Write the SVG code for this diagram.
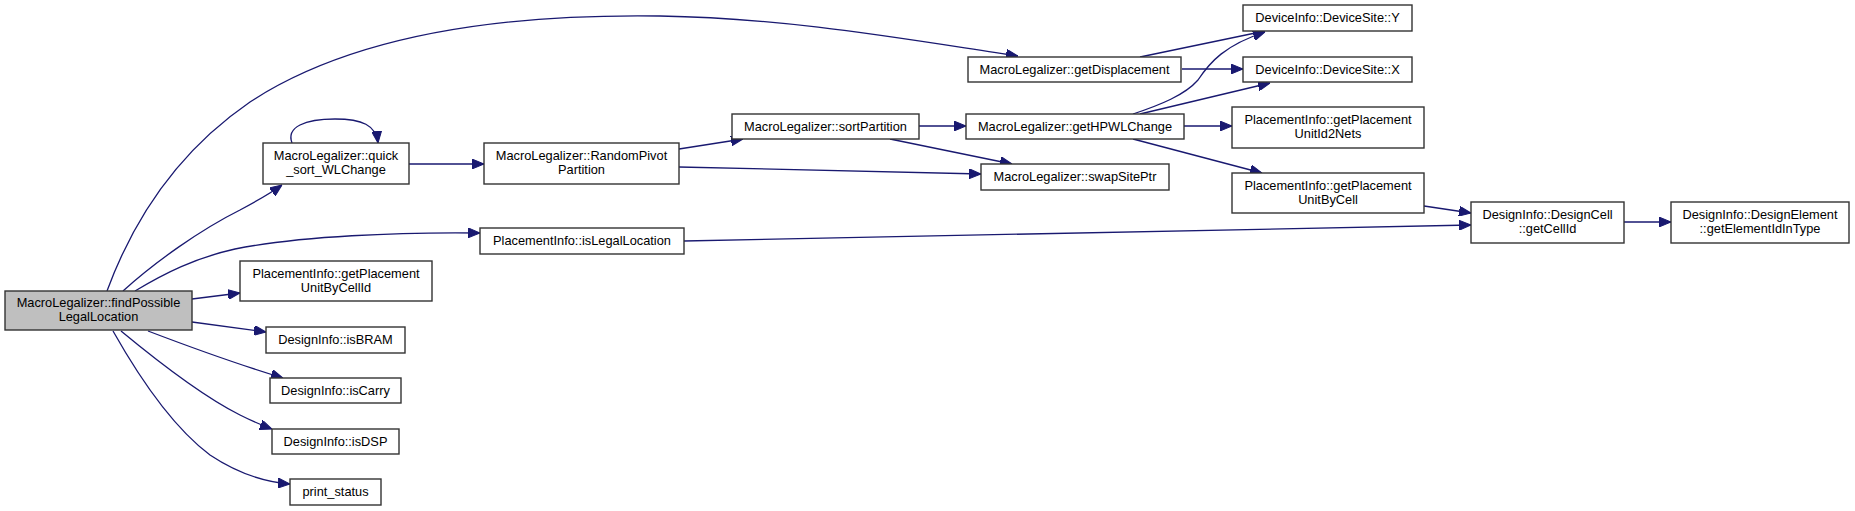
<svg xmlns="http://www.w3.org/2000/svg" width="1855" height="511" viewBox="0 0 1855 511">
<defs>
<style>
.n rect{fill:#ffffff;stroke:#333333;stroke-width:1.4}
.root rect{fill:#bfbfbf}
.n text{font-family:"Liberation Sans",Arial,sans-serif;font-size:12.8px;text-anchor:middle;fill:#000}
#edges path{fill:none;stroke:#191970;stroke-width:1.3}
</style>
<marker id="ah" markerUnits="userSpaceOnUse" viewBox="0 0 12 10" markerWidth="12" markerHeight="10" refX="12" refY="5" orient="auto">
<path d="M0,0 L12,5 L0,10 z" fill="#191970" stroke="#191970" stroke-width="1"/>
</marker>
</defs>
<rect width="1855" height="511" fill="#ffffff"/>
<g id="edges" marker-end="url(#ah)">
<path marker-end="url(#ah)" d="M107,291 C135,215 180,150 250,102 C360,30 520,14 660,16 C790,18 910,40 1018,56"/>
<path marker-end="url(#ah)" d="M123,291 C155,262 200,230 240,210 C255,202 268,195 282,185"/>
<path marker-end="url(#ah)" d="M135,291 C165,273 195,258 235,249 C300,236 400,232 480,233"/>
<path marker-end="url(#ah)" d="M192,299 L240,293"/>
<path marker-end="url(#ah)" d="M192,322 L266,332"/>
<path marker-end="url(#ah)" d="M148,331 C190,347 240,365 283,378"/>
<path marker-end="url(#ah)" d="M121,331 C150,355 200,395 240,415 C250,420 261,425 272,429"/>
<path marker-end="url(#ah)" d="M113,331 C135,370 170,425 210,455 C240,475 265,482 290,484"/>
<path marker-end="url(#ah)" d="M409,164 L484,164"/>
<path marker-end="url(#ah)" d="M292,143 C286,127 305,119 335,119 C362,119 376,125 378,143"/>
<path marker-end="url(#ah)" d="M679,149 L743,139"/>
<path marker-end="url(#ah)" d="M679,167 L981,174"/>
<path marker-end="url(#ah)" d="M919,126 L966,126"/>
<path marker-end="url(#ah)" d="M890,139 L1012,164"/>
<path marker-end="url(#ah)" d="M1140,57 L1265,31"/>
<path marker-end="url(#ah)" d="M1182,69 L1243,69"/>
<path marker-end="url(#ah)" d="M1133,114 C1160,105 1185,95 1198,80 C1210,62 1225,45 1265,32"/>
<path marker-end="url(#ah)" d="M1140,114 L1270,83"/>
<path marker-end="url(#ah)" d="M1184,126 L1232,126"/>
<path marker-end="url(#ah)" d="M1133,139 L1262,173"/>
<path marker-end="url(#ah)" d="M1424,206 L1471,213"/>
<path marker-end="url(#ah)" d="M684,241 L1471,225"/>
<path marker-end="url(#ah)" d="M1624,222 L1671,222"/>
</g>
<g id="n0" class="n root"><rect x="5" y="291" width="187" height="39"/><text x="98.5" y="307">MacroLegalizer::findPossible</text><text x="98.5" y="321">LegalLocation</text></g>
<g id="n1" class="n"><rect x="968" y="57" width="213" height="25"/><text x="1074.5" y="73.8">MacroLegalizer::getDisplacement</text></g>
<g id="n2" class="n"><rect x="263" y="143" width="146" height="41"/><text x="336" y="160">MacroLegalizer::quick</text><text x="336" y="174">_sort_WLChange</text></g>
<g id="n3" class="n"><rect x="480" y="228" width="204" height="26"/><text x="582" y="245.3">PlacementInfo::isLegalLocation</text></g>
<g id="n4" class="n"><rect x="240" y="261" width="192" height="40"/><text x="336" y="277.5">PlacementInfo::getPlacement</text><text x="336" y="291.5">UnitByCellId</text></g>
<g id="n5" class="n"><rect x="266" y="327" width="139" height="26"/><text x="335.5" y="344.3">DesignInfo::isBRAM</text></g>
<g id="n6" class="n"><rect x="270" y="378" width="131" height="25"/><text x="335.5" y="394.8">DesignInfo::isCarry</text></g>
<g id="n7" class="n"><rect x="272" y="429" width="127" height="25"/><text x="335.5" y="445.8">DesignInfo::isDSP</text></g>
<g id="n8" class="n"><rect x="290" y="479" width="91" height="26"/><text x="335.5" y="496.3">print_status</text></g>
<g id="n9" class="n"><rect x="484" y="143" width="195" height="41"/><text x="581.5" y="160">MacroLegalizer::RandomPivot</text><text x="581.5" y="174">Partition</text></g>
<g id="n10" class="n"><rect x="732" y="114" width="187" height="25"/><text x="825.5" y="130.8">MacroLegalizer::sortPartition</text></g>
<g id="n11" class="n"><rect x="981" y="164" width="188" height="26"/><text x="1075" y="181.3">MacroLegalizer::swapSitePtr</text></g>
<g id="n12" class="n"><rect x="966" y="114" width="218" height="25"/><text x="1075" y="130.8">MacroLegalizer::getHPWLChange</text></g>
<g id="n13" class="n"><rect x="1243" y="5" width="169" height="26"/><text x="1327.5" y="22.3">DeviceInfo::DeviceSite::Y</text></g>
<g id="n14" class="n"><rect x="1243" y="57" width="169" height="25"/><text x="1327.5" y="73.8">DeviceInfo::DeviceSite::X</text></g>
<g id="n15" class="n"><rect x="1232" y="107" width="192" height="41"/><text x="1328" y="124">PlacementInfo::getPlacement</text><text x="1328" y="138">UnitId2Nets</text></g>
<g id="n16" class="n"><rect x="1232" y="173" width="192" height="40"/><text x="1328" y="189.5">PlacementInfo::getPlacement</text><text x="1328" y="203.5">UnitByCell</text></g>
<g id="n17" class="n"><rect x="1471" y="202" width="153" height="41"/><text x="1547.5" y="219">DesignInfo::DesignCell</text><text x="1547.5" y="233">::getCellId</text></g>
<g id="n18" class="n"><rect x="1671" y="202" width="178" height="41"/><text x="1760" y="219">DesignInfo::DesignElement</text><text x="1760" y="233">::getElementIdInType</text></g>
</svg>
